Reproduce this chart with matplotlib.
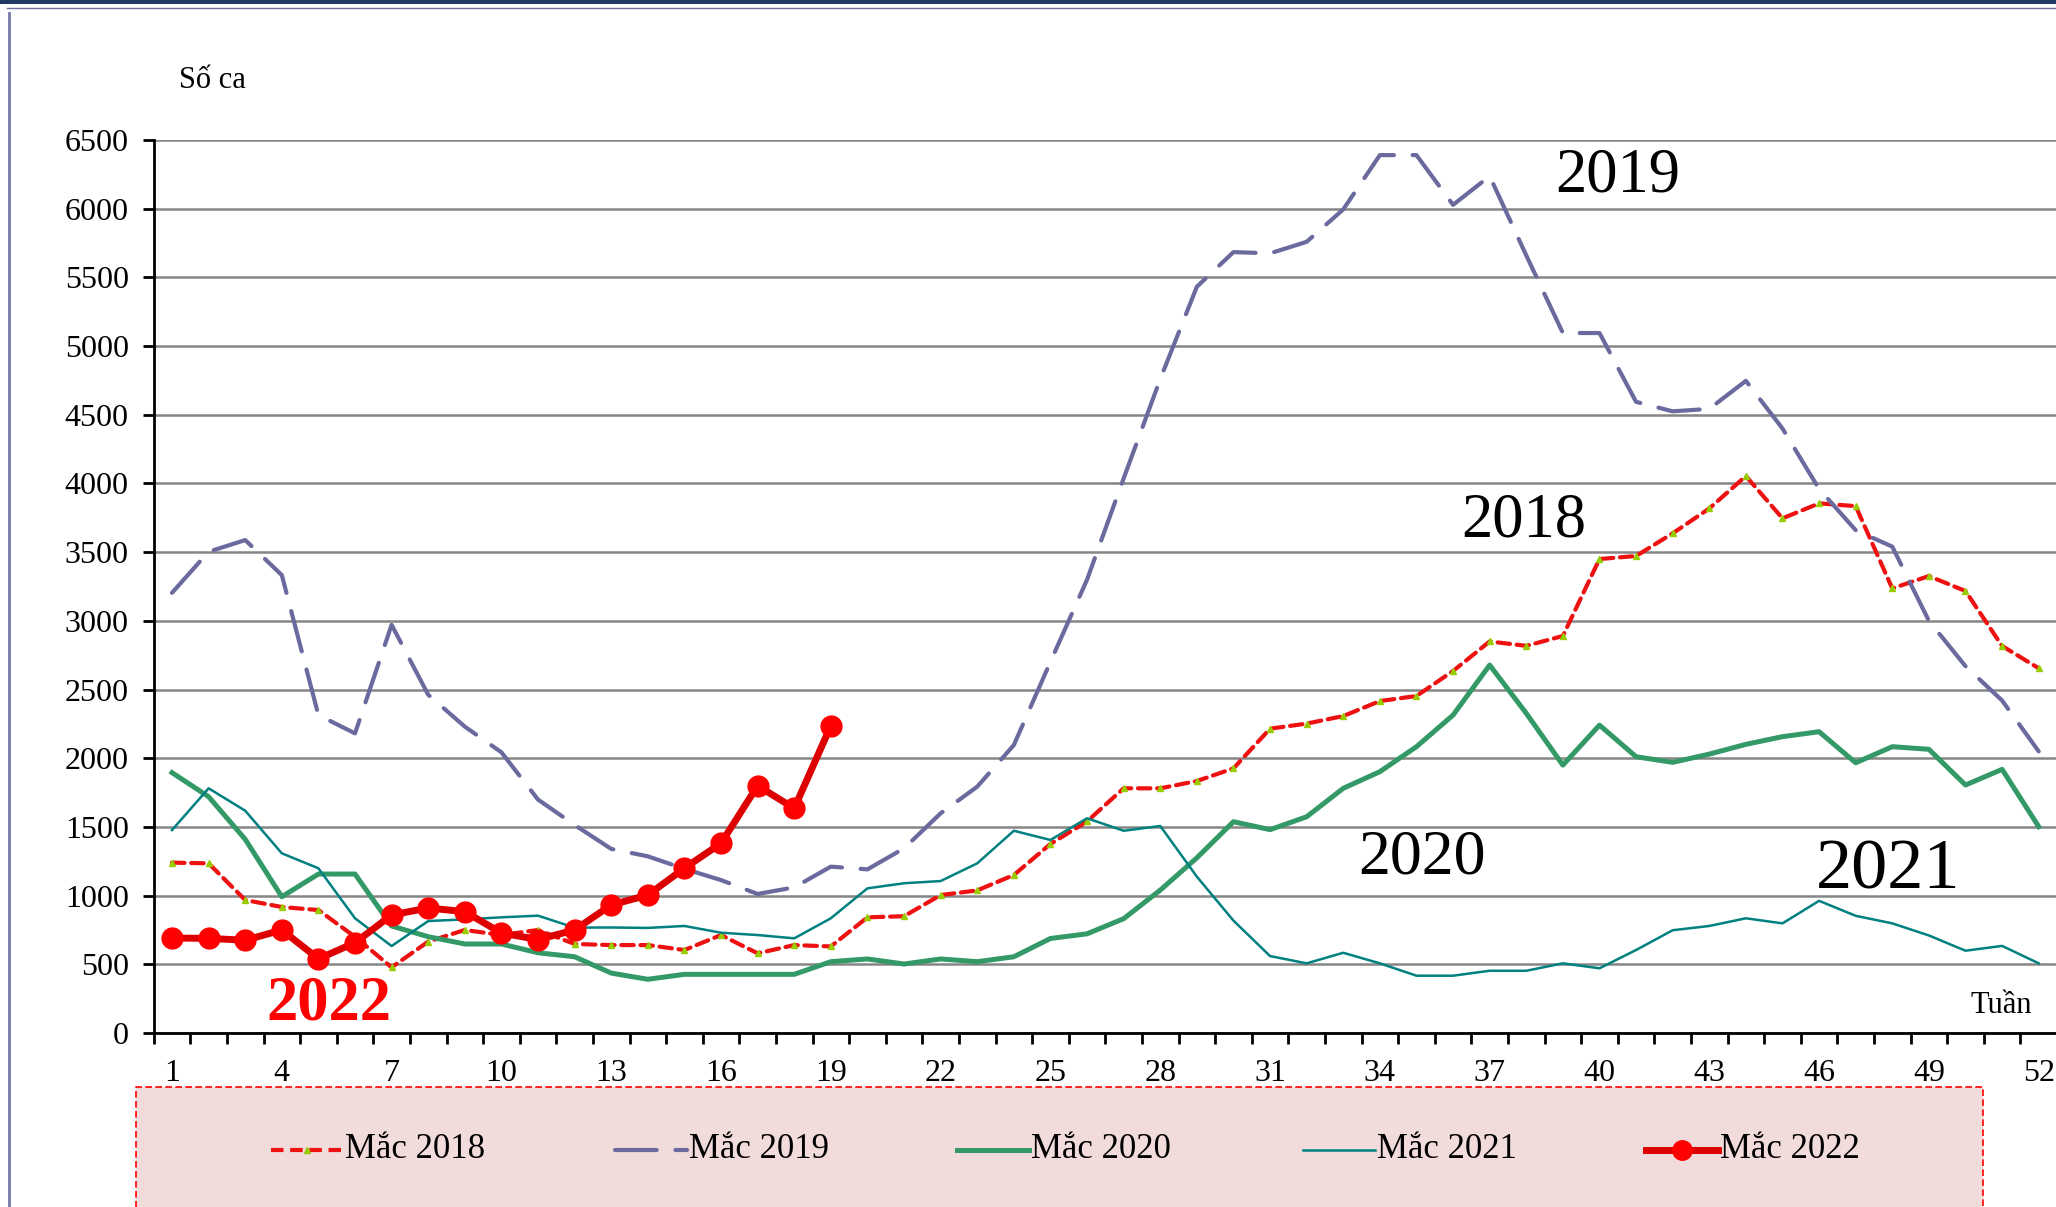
import numpy as np
import matplotlib
matplotlib.use("Agg")
from matplotlib import pyplot as plt
from matplotlib.lines import Line2D
from matplotlib.patches import Rectangle

plt.rcParams['font.family'] = ['Liberation Serif', 'DejaVu Serif']

tuan = np.arange(1, 53)
mac2018 = [1240, 1235, 968, 917, 895, 700, 478, 665, 750, 713,
           750, 648, 640, 640, 604, 713, 580, 640, 630, 842,
           850, 1004, 1038, 1150, 1376, 1540, 1781, 1781, 1834, 1926,
           2215, 2252, 2307, 2416, 2453, 2635, 2850, 2818, 2890, 3450,
           3472, 3637, 3818, 4054, 3746, 3855, 3835, 3236, 3326, 3217,
           2817, 2655]
mac2019 = [3204, 3503, 3588, 3333, 2314, 2181, 2971, 2462, 2230, 2043,
           1699, 1514, 1340, 1286, 1195, 1113, 1012, 1060, 1211, 1191,
           1344, 1599, 1793, 2096, 2702, 3300, 4037, 4760, 5432, 5684,
           5675, 5759, 5995, 6390, 6390, 6028, 6237, 5660, 5095, 5095,
           4594, 4525, 4543, 4747, 4400, 3960, 3660, 3540, 3000, 2670,
           2420, 2050]
mac2020 = [1895, 1720, 1410, 992, 1157, 1157, 779, 701, 648, 648,
           584, 555, 436, 391, 427, 427, 427, 427, 519, 539,
           502, 539, 519, 555, 688, 722, 832, 1040, 1275, 1538,
           1480, 1574, 1781, 1902, 2084, 2314, 2678, 2327, 1950, 2241,
           2011, 1970, 2030, 2101, 2157, 2193, 1967, 2084, 2065, 1805,
           1919, 1502]
mac2021 = [1477, 1781, 1618, 1308, 1199, 835, 633, 815, 827, 842,
           854, 767, 768, 765, 779, 730, 713, 689, 835, 1053,
           1090, 1106, 1235, 1472, 1405, 1563, 1472, 1507, 1138, 818,
           560, 507, 584, 507, 417, 417, 453, 453, 507, 471,
           604, 748, 779, 835, 798, 962, 853, 798, 710, 599,
           634, 507]
mac2022 = [691, 689, 675, 750, 540, 657, 859, 910, 883, 728,
           680, 750, 932, 1004, 1200, 1381, 1800, 1635, 2236]

nhan_x = list(range(1, 53, 3))

W, H = 2056, 1207
fig = plt.figure(figsize=(W / 100, H / 100), dpi=100)
ax = fig.add_axes([153.7 / W, 1 - 1033 / H, (2057 - 153.7) / W, (1033 - 140) / H])

ax.set_xlim(0.5, 52.5)
ax.set_ylim(0, 6500)
ax.set_yticks(np.arange(0, 6501, 500))
ax.yaxis.grid(True, color='#868686', lw=1.8)
ax.set_axisbelow(True)
for s in ['top', 'right']:
    ax.spines[s].set_visible(False)
for s in ['left', 'bottom']:
    ax.spines[s].set_linewidth(2)
    ax.spines[s].set_zorder(10)

ax.set_xticks(nhan_x)
ax.set_xticks(np.arange(0.5, 53, 1), minor=True)
ax.tick_params(axis='x', which='major', length=0, pad=19, labelsize=23)
ax.tick_params(axis='x', which='minor', length=8, width=2, direction='out')
ax.tick_params(axis='y', length=8, width=2, direction='out', pad=10, labelsize=23)

# duong bieu do
ax.plot(tuan, mac2018, color='#ee1111', lw=3, dashes=(3, 1.6), dash_capstyle='round',
        marker='^', markersize=5, markerfacecolor='#99cc00', markeredgecolor='#99cc00')
ax.plot(tuan, mac2019, color='#6a6a9e', lw=3, dashes=(10, 4.5), dash_capstyle='round')
ax.plot(tuan, mac2020, color='#339966', lw=3.6)
ax.plot(tuan, mac2021, color='#008080', lw=1.8)
ax.plot(np.arange(1, len(mac2022) + 1), mac2022, color='#dd0000', lw=5,
        marker='o', markersize=15, markerfacecolor='#ff0000', markeredgecolor='#ff0000')

ax.text(1.19, 6878, 'Số ca', fontsize=22, ha='left', va='baseline')
ax.text(50.13, 146, 'Tuần', fontsize=22, ha='left', va='baseline')
ax.text(38.79, 6128, '2019', fontsize=45, ha='left', va='baseline')
ax.text(36.22, 3617, '2018', fontsize=45, ha='left', va='baseline')
ax.text(33.4, 1164, '2020', fontsize=46, ha='left', va='baseline')
ax.text(45.92, 1055, '2021', fontsize=52, ha='left', va='baseline')
ax.text(3.57, 95, '2022', fontsize=45, fontweight='bold', color='#ff0000',
        ha='left', va='baseline')

# khung trang
fig.add_artist(Rectangle((0, 1 - 4 / H), 1, 4 / H, transform=fig.transFigure,
                         color='#1f3864', lw=0))
fig.add_artist(Line2D([7 / W, 1], [1 - 7.5 / H] * 2, transform=fig.transFigure,
                      color='#6f6fa0', lw=1))
fig.add_artist(Line2D([8.5 / W] * 2, [0, 1 - 13 / H], transform=fig.transFigure,
                      color='#7878a8', lw=2))

# chu giai
fig.add_artist(Rectangle((136 / W, -0.01), (1983 - 136) / W, 0.01 + 1 - 1087 / H,
                         transform=fig.transFigure, facecolor='#f2dcdb',
                         edgecolor='#ff0000', lw=1.2, linestyle=(0, (4, 2))))
ly = 1 - 1150 / H
items = [
    (271, 'Mắc 2018', dict(color='#ee1111', lw=3, dashes=(3, 1.6), marker='^', markersize=5,
                           markerfacecolor='#99cc00', markeredgecolor='#99cc00')),
    (615, 'Mắc 2019', dict(color='#6a6a9e', lw=3, dashes=(10, 4.5), dash_capstyle='round')),
    (957, 'Mắc 2020', dict(color='#339966', lw=3.6)),
    (1303, 'Mắc 2021', dict(color='#008080', lw=1.8)),
    (1646, 'Mắc 2022', dict(color='#dd0000', lw=5, marker='o', markersize=14,
                            markerfacecolor='#ff0000', markeredgecolor='#ff0000')),
]
for x0, ten, kieu in items:
    xs = np.array([x0, x0 + 36, x0 + 72]) / W
    ln = Line2D(xs, [ly] * 3, transform=fig.transFigure, markevery=[1], **kieu)
    fig.add_artist(ln)
    fig.text((x0 + 74) / W, ly, ten, fontsize=25, ha='left', va='center')

fig.savefig('out.png', dpi=100)
